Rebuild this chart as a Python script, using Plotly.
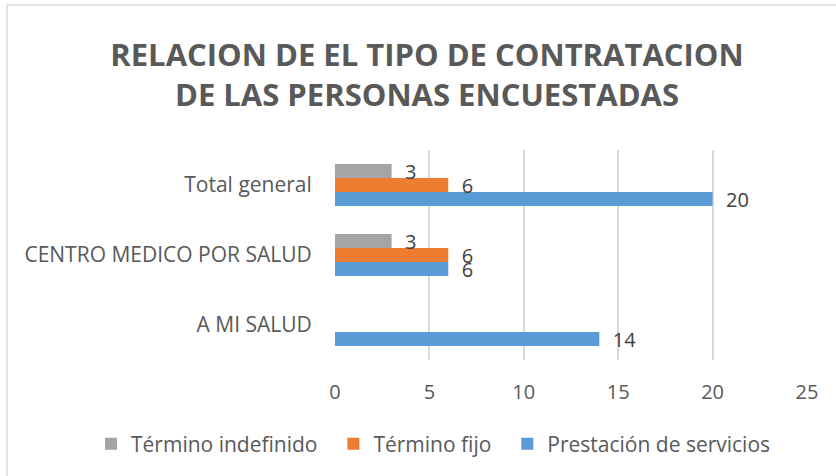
import plotly.graph_objects as go

categories = ["A MI SALUD", "CENTRO MEDICO POR SALUD", "Total general"]
prestacion = [14, 6, 20]
fijo = [None, 6, 6]
indefinido = [None, 3, 3]

series = [
    ("Prestación de servicios", prestacion, "#5B9BD5"),
    ("Término fijo", fijo, "#ED7D31"),
    ("Término indefinido", indefinido, "#A5A5A5"),
]
# extra spacing after legend labels (layout only)
legend_pad = {"Prestación de servicios": "", "Término fijo": "  ", "Término indefinido": "  "}

FONT = "Open Sans"
TXT = "#595959"

fig = go.Figure()
for name, vals, col in series:
    fig.add_trace(go.Bar(
        y=categories, x=vals, name=name + legend_pad[name], orientation="h",
        marker=dict(color=col, line=dict(width=0)),
        text=vals, texttemplate="  %{x}", textposition="outside",
        constraintext="none",
        textfont=dict(family=FONT, size=20, color="#404040"),
        cliponaxis=False,
    ))

W, H = 836, 476
L, R, T, B = 335, 29, 150, 116
pw, ph = W - L - R, H - T - B

def px(x):
    return (x - L) / pw

def py(y):
    return (H - B - y) / ph

fig.update_layout(
    width=W, height=H,
    margin=dict(l=L, r=R, t=T, b=B, pad=0, autoexpand=False),
    paper_bgcolor="white", plot_bgcolor="white",
    barmode="group", bargap=0.4, bargroupgap=0,
    title=dict(
        text="RELACION DE EL TIPO DE CONTRATACION<br>DE LAS PERSONAS ENCUESTADAS",
        font=dict(family=FONT, size=31, color=TXT, weight="bold"),
        x=427 / W, xref="container", xanchor="center",
        y=1 - 66 / H, yref="container", yanchor="middle",
    ),
    xaxis=dict(
        range=[0, 25], dtick=5, showgrid=True, gridcolor="#D9D9D9", gridwidth=1.5,
        zeroline=False, showline=False,
        ticks="outside", ticklen=14, tickcolor="rgba(0,0,0,0)",
        tickfont=dict(family=FONT, size=20, color=TXT),
    ),
    yaxis=dict(
        showgrid=False, zeroline=False, showline=False,
        ticks="outside", ticklen=18, tickcolor="rgba(0,0,0,0)",
        tickfont=dict(family=FONT, size=21, color=TXT),
    ),
    showlegend=True,
    legend=dict(
        orientation="h", traceorder="reversed",
        x=px(91), xanchor="left", y=py(444), yanchor="middle",
        font=dict(family=FONT, size=21, color=TXT),
        itemwidth=30,
    ),
    shapes=[
        dict(type="line", xref="paper", yref="paper", x0=px(7), x1=px(836), y0=py(5), y1=py(5),
             line=dict(color="#D9D9D9", width=1.5)),
        dict(type="line", xref="paper", yref="paper", x0=px(7), x1=px(7), y0=py(5), y1=py(476),
             line=dict(color="#D9D9D9", width=1.5)),
    ],
)

fig.write_html("out.html", config={"displayModeBar": False},
               post_script="document.body.style.margin='0px';")
